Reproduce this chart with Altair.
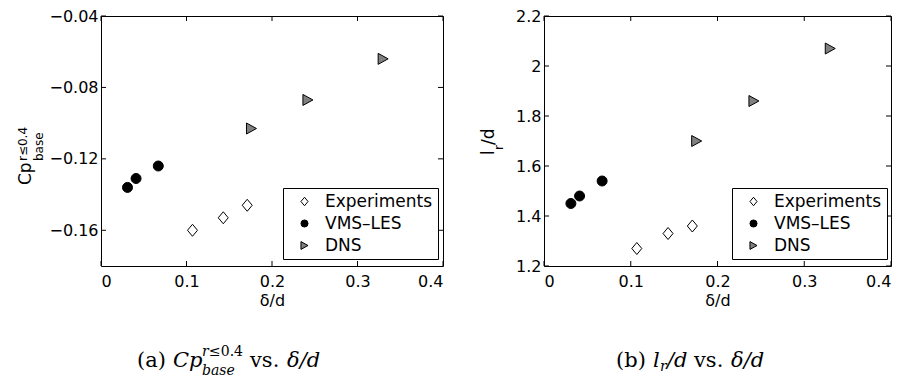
import altair as alt
import pandas as pd

# ---------------- data ----------------
series_names = ["Experiments", "VMS–LES", "DNS"]
exp_delta = [0.107, 0.143, 0.171]
les_delta = [0.031, 0.041, 0.067]
dns_delta = [0.176, 0.242, 0.330]

cp_exp = [-0.160, -0.153, -0.146]
cp_les = [-0.136, -0.131, -0.124]
cp_dns = [-0.103, -0.087, -0.064]

lr_exp = [1.27, 1.33, 1.36]
lr_les = [1.45, 1.48, 1.54]
lr_dns = [1.70, 1.86, 2.07]

x_ticks = [0, 0.1, 0.2, 0.3, 0.4]
cp_ticks = [-0.16, -0.12, -0.08, -0.04]
lr_ticks = [1.2, 1.4, 1.6, 1.8, 2.0, 2.2]

rows = []
for name, xs_, cps, lrs in zip(series_names,
                               [exp_delta, les_delta, dns_delta],
                               [cp_exp, cp_les, cp_dns],
                               [lr_exp, lr_les, lr_dns]):
    for xv, cv, lv in zip(xs_, cps, lrs):
        rows.append({"series": name, "delta": xv, "cp": cv, "lr": lv})
df = pd.DataFrame(rows)

shapes = ["M-1,0L0,-1.2L1,0L0,1.2Z", "circle", "M-1,-1.1L1,0L-1,1.1Z"]
fills = ["white", "black", "#808080"]
strokes = ["black", "black", "black"]

H = 250
SANS = "DejaVu Sans"
SERIF = "DejaVu Serif"


def txt(s, x, y, size, font=SANS, style="normal", angle=0, align="left",
        baseline="alphabetic"):
    return alt.Chart(pd.DataFrame({"t": [s]})).mark_text(
        font=font, fontSize=size, fontStyle=style, angle=angle, align=align,
        baseline=baseline, color="black"
    ).encode(text="t:N", x=alt.value(x), y=alt.value(y))


def panel(ycol, ydom, yticks, yfmt, W, legx, extras):
    xs = alt.Scale(domain=[0, 0.4], nice=False, zero=False)
    ys = alt.Scale(domain=ydom, nice=False, zero=False)
    xax = alt.Axis(values=x_ticks, format="~g", title="δ/d")
    yax = alt.Axis(values=yticks, format=yfmt, title=None)
    leg = alt.Legend(
        title=None, orient="none", legendX=legx, legendY=172,
        direction="vertical", padding=5, rowPadding=4,
        strokeColor="black", fillColor="white", cornerRadius=0,
        labelFont=SANS, labelFontSize=17, labelColor="black",
        symbolSize=50, symbolStrokeWidth=1,
        symbolOffset=8, labelOffset=12,
    )
    pts = alt.Chart(df).mark_point(
        filled=False, size=100, strokeWidth=1, opacity=1, fillOpacity=1
    ).encode(
        x=alt.X("delta:Q", scale=xs, axis=xax),
        y=alt.Y(f"{ycol}:Q", scale=ys, axis=yax),
        shape=alt.Shape("series:N",
                        scale=alt.Scale(domain=series_names, range=shapes),
                        legend=leg),
        fill=alt.Fill("series:N",
                      scale=alt.Scale(domain=series_names, range=fills),
                      legend=leg),
        stroke=alt.Stroke("series:N",
                          scale=alt.Scale(domain=series_names, range=strokes),
                          legend=leg),
    )
    xt = alt.Chart(pd.DataFrame({"t": x_ticks}))
    yt = alt.Chart(pd.DataFrame({"t": yticks}))
    rule = dict(color="black", strokeWidth=1)
    t_bottom = xt.mark_rule(**rule).encode(
        x=alt.X("t:Q", scale=xs, axis=xax), y=alt.value(H), y2=alt.value(H - 5))
    t_top = xt.mark_rule(**rule).encode(
        x=alt.X("t:Q", scale=xs, axis=xax), y=alt.value(0), y2=alt.value(5))
    t_left = yt.mark_rule(**rule).encode(
        y=alt.Y("t:Q", scale=ys, axis=yax), x=alt.value(0), x2=alt.value(5))
    t_right = yt.mark_rule(**rule).encode(
        y=alt.Y("t:Q", scale=ys, axis=yax), x=alt.value(W - 5), x2=alt.value(W))
    return alt.layer(pts, t_bottom, t_top, t_left, t_right, *extras).properties(
        width=W, height=H)


# ---- left panel annotations (y title + caption) ----
left_extras = [
    txt("Cp", -70, 169, 17, angle=270),
    txt("r≤0.4", -74, 145, 12, angle=270),
    txt("base", -58, 145, 12, angle=270),
    txt("(a)", 36, 351, 21, font=SERIF),
    txt("Cp", 72, 351, 21, font=SERIF, style="italic"),
    txt("r", 101, 340, 14, font=SERIF, style="italic"),
    txt("≤0.4", 108, 340, 14, font=SERIF),
    txt("base", 101, 359, 14, font=SERIF, style="italic"),
    txt("vs.", 149, 351, 21, font=SERIF),
    txt("δ/d", 186, 351, 21, font=SERIF, style="italic"),
]

# ---- right panel annotations ----
right_extras = [
    txt("l", -50, 139, 17, angle=270),
    txt("r", -41, 134, 12, angle=270),
    txt("/d", -50, 129, 17, angle=270),
    txt("(b)", 72, 351, 21, font=SERIF),
    txt("l", 109, 351, 21, font=SERIF, style="italic"),
    txt("r", 116, 355, 14, font=SERIF, style="italic"),
    txt("/d", 123, 351, 21, font=SERIF, style="italic"),
    txt("vs.", 150, 351, 21, font=SERIF),
    txt("δ/d", 187, 351, 21, font=SERIF, style="italic"),
]

left = panel("cp", [-0.18, -0.04], cp_ticks, ".2f", 342, 182, left_extras)
right = panel("lr", [1.2, 2.2], lr_ticks, "~g", 347, 188, right_extras)

chart = alt.hconcat(left, right, spacing=35).resolve_scale(
    x="independent", y="independent", shape="independent",
    fill="independent", stroke="independent"
).resolve_legend(
    shape="independent", fill="independent", stroke="independent"
).properties(
    padding={"left": 8, "top": -1, "right": 5, "bottom": 5}
).configure_view(
    stroke="black", strokeWidth=1
).configure_axis(
    labelFont=SANS, labelFontSize=16, labelColor="black", ticks=False,
    domain=False, grid=False, titleFont=SANS, titleFontSize=16,
    titleFontWeight="normal", titleColor="black"
).configure_axisX(
    labelPadding=7, titlePadding=3
).configure_axisY(
    labelPadding=3
)

chart.save("out.html", embed_options={"renderer": "svg", "actions": False})
